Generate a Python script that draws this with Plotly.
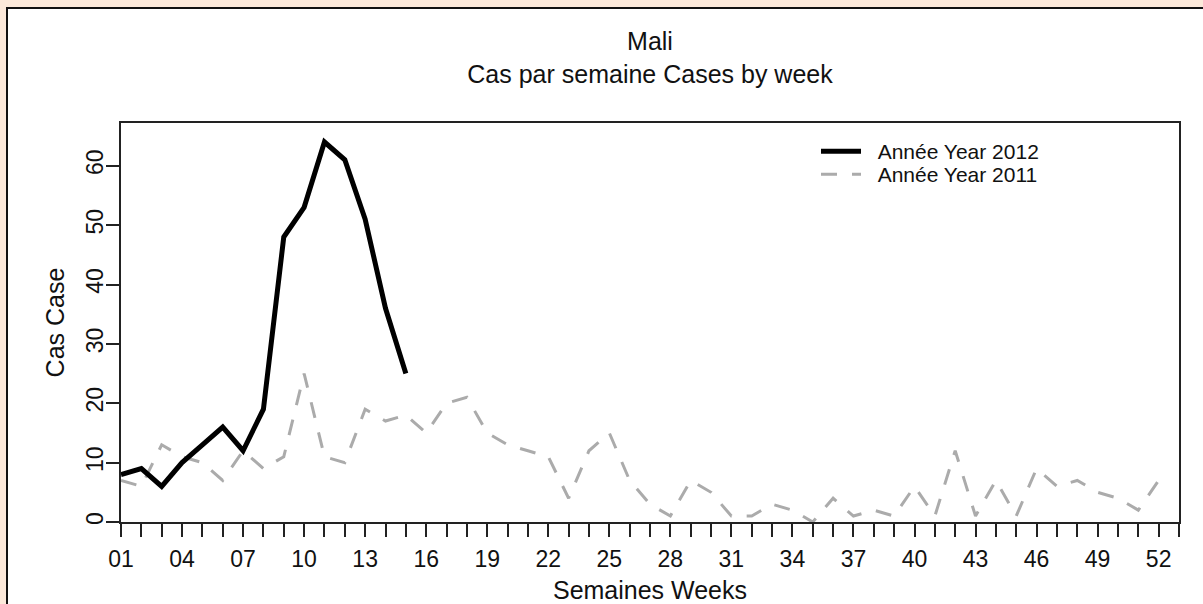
import plotly.graph_objects as go

# ---- data ----
weeks_2012 = list(range(1, 16))
cases_2012 = [8, 9, 6, 10, 13, 16, 12, 19, 48, 53, 64, 61, 51, 36, 25]

weeks_2011 = list(range(1, 53))
cases_2011 = [7, 6, 13, 11, 10, 7, 12, 9, 11, 25, 11, 10, 19, 17, 18, 15, 20, 21, 15, 13,
              12, 11, 4, 12, 15, 7, 3, 1, 7, 5, 1, 1, 3, 2, 0, 4, 1, 2, 1, 6,
              1, 12, 1, 7, 1, 9, 6, 7, 5, 4, 2, 7]

x_tick_vals = list(range(1, 53, 3))
x_tick_text = ["%02d" % w for w in x_tick_vals]
y_tick_vals = [0, 10, 20, 30, 40, 50, 60]

title_main = "Mali"
title_sub = "Cas par semaine Cases by week"
x_title = "Semaines Weeks"
y_title = "Cas Case"
name_2012 = "Année Year 2012"
name_2011 = "Année Year 2011"

FONT = "Liberation Sans, Arial, sans-serif"
TXT = "#111111"
W, H = 1203, 604
L, R, T, B = 121, 24, 123, 82
pw, ph = W - L - R, H - T - B


def px_x(p):
    return (p - L) / pw


def px_y(p):
    return (H - B - p) / ph


PAD = "\u00a0\u00a0"

fig = go.Figure()
fig.add_trace(go.Scatter(x=weeks_2011, y=cases_2011, mode="lines", name=PAD + name_2011,
                         line=dict(color="#ABABAB", width=3, dash="16px,15px"),
                         legend="legend2"))
fig.add_trace(go.Scatter(x=weeks_2012, y=cases_2012, mode="lines", name=PAD + name_2012,
                         line=dict(color="#000000", width=5), legend="legend"))

# white panel with dark frame on beige page
fig.add_shape(type="rect", xref="paper", yref="paper", layer="below",
              x0=px_x(7), x1=px_x(1215), y0=px_y(615), y1=px_y(8),
              line=dict(color="#111111", width=2), fillcolor="white")

axis_common = dict(showline=True, linecolor="#222222", linewidth=2, mirror=True,
                   ticks="outside", tickcolor="#222222", tickwidth=2, ticklen=13,
                   showgrid=False, zeroline=False, automargin=False,
                   tickfont=dict(family=FONT, size=23, color=TXT))

fig.update_layout(
    width=W, height=H,
    margin=dict(l=L, r=R, t=T, b=B, autoexpand=False),
    paper_bgcolor="#FCE9DA", plot_bgcolor="white",
    title=dict(text=title_main + "<br>" + title_sub, x=650 / W,
               xanchor="center", y=1 - 50 / H, yanchor="top",
               font=dict(family=FONT, size=25, color=TXT)),
    xaxis=dict(range=[1, 53], tickvals=x_tick_vals, ticktext=x_tick_text,
               ticklabelstandoff=2,
               minor=dict(dtick=1, tick0=1, ticks="outside", ticklen=13, tickwidth=2,
                          tickcolor="#222222"),
               title=dict(text=x_title, standoff=13,
                          font=dict(family=FONT, size=25, color=TXT)),
               **axis_common),
    yaxis=dict(range=[0, 67.2], tickvals=y_tick_vals, tickangle=-90,
               ticklabelstandoff=-6,
               title=dict(text=y_title, standoff=10,
                          font=dict(family=FONT, size=25, color=TXT)),
               **axis_common),
    legend=dict(x=px_x(816), y=px_y(131), xanchor="left", yanchor="top", itemwidth=40,
                bgcolor="rgba(0,0,0,0)", font=dict(family=FONT, size=21, color=TXT)),
    legend2=dict(x=px_x(816), y=px_y(154), xanchor="left", yanchor="top", itemwidth=40,
                 bgcolor="rgba(0,0,0,0)", font=dict(family=FONT, size=21, color=TXT)),
    showlegend=True,
)

fig.write_html("out.html", config={"displayModeBar": False},
               post_script="document.body.style.margin='0px';"
                           "document.body.style.background='#FCE9DA';")
